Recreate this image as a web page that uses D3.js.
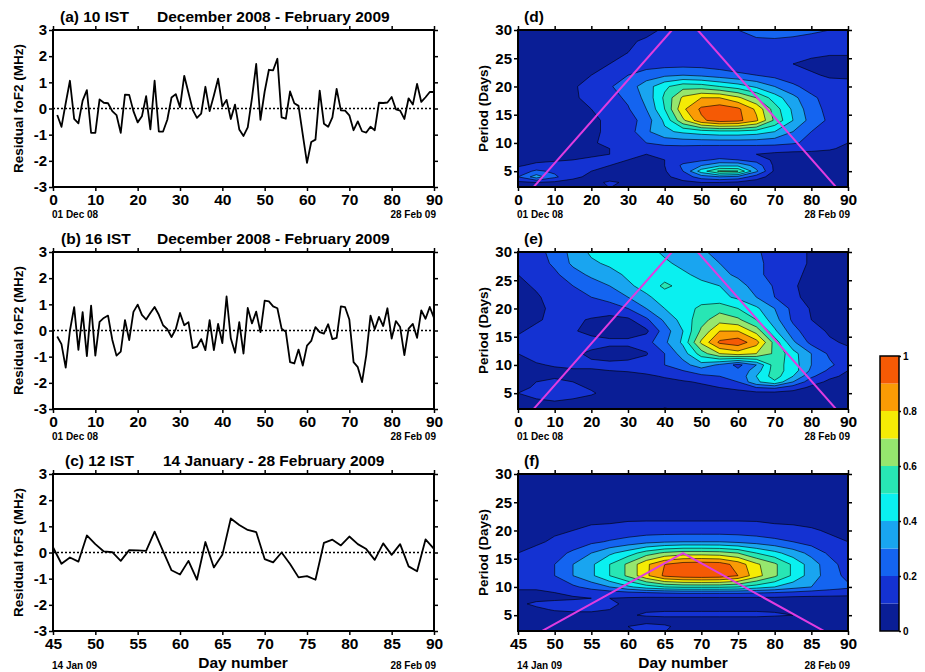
<!DOCTYPE html>
<html>
<head>
<meta charset="utf-8">
<script src="https://cdn.jsdelivr.net/npm/d3@7"></script>
<style>
  body { margin: 0; background: #fff; }
  svg text { font-family: "Liberation Sans", Arial, sans-serif; font-weight: bold; fill: #000; }
</style>
</head>
<body>
<div id="chart"></div>
<script>
// ---- residual series ----
const residual10IST = [
  -0.25, -0.70, 0.20, 1.06, -0.40, -0.57, 0.30, 0.70, -0.93, -0.93,
  0.35, 0.22, 0.20, -0.10, -0.25, -0.93, 0.53, 0.52, -0.10, -0.53,
  -0.30, 0.47, -0.80, 1.06, -0.88, -0.88, -0.43, 0.42, 0.55, 0.05,
  1.25, 0.60, -0.05, -0.36, -0.20, 0.83, -0.10, 0.50, 1.14, 0.08,
  0.33, -0.40, 0.15, -0.80, -1.05, -0.72, 0.40, 1.70, -0.43, 0.65,
  1.48, 1.46, 1.90, -0.34, -0.39, 0.65, 0.20, 0.10, -1.00, -2.08,
  -1.28, -1.19, 0.68, -0.58, -0.70, -0.34, 0.75, -0.07, -0.08, -0.26,
  -0.83, -0.49, -0.87, -0.92, -0.70, -0.83, 0.22, 0.21, 0.23, 0.44,
  -0.03, -0.08, -0.40, 0.39, 0.15, 0.94, 0.25, 0.43, 0.63, 0.63
];
const residual16IST = [
  -0.23, -0.52, -1.42, 0.00, 0.89, -0.74, 0.70, -0.98, 0.95, -0.96,
  0.33, 0.48, 0.57, -0.35, -0.96, -0.81, 0.40, -0.37, 0.71, 0.99,
  0.60, 0.42, 0.67, 0.90, 0.60, 0.20, 0.05, -0.25, 0.05, 0.67,
  0.20, 0.32, -0.67, -0.62, -0.33, -0.75, 0.40, -0.75, 0.25, -0.48,
  1.30, -0.30, -0.85, 0.32, -0.88, 0.86, 0.27, 0.72, -0.06, 1.14,
  1.11, 0.92, 0.85, 0.07, -0.05, -1.21, -1.26, -0.73, -1.34, -0.58,
  -0.40, 0.13, -0.06, -0.12, 0.24, -0.33, -0.28, 0.92, 0.89, 0.42,
  -1.21, -1.40, -1.97, -0.94, 0.57, 0.05, 0.52, 0.17, 0.85, -0.31,
  0.36, 0.13, -0.94, 0.07, 0.25, -0.28, 0.77, 0.45, 0.90, 0.48
];
const residual12IST = [
  0.20, -0.43, -0.19, -0.35, 0.65, 0.32, 0.04, 0.01, -0.32, 0.09,
  0.08, 0.06, 0.80, 0.05, -0.68, -0.84, -0.32, -1.04, 0.40, -0.57,
  -0.09, 1.30, 1.05, 0.86, 0.78, -0.25, -0.38, 0.00, -0.44, -0.95,
  -0.90, -1.04, 0.37, 0.49, 0.27, 0.61, 0.32, 0.13, -0.28, 0.35,
  -0.09, 0.32, -0.53, -0.72, 0.50, 0.14
];
const daysDec = d3.range(1, 91);   // day 1 .. 90
const daysJan = d3.range(45, 91);  // day 45 .. 90

const ticksDec = [0, 10, 20, 30, 40, 50, 60, 70, 80, 90];
const ticksJan = [45, 50, 55, 60, 65, 70, 75, 80, 85, 90];
const residualTicks = [-3, -2, -1, 0, 1, 2, 3];
const periodTicks = [5, 10, 15, 20, 25, 30];

// ---- wavelet power grids (normalised) ----
// rows follow periodRows (top to bottom), columns follow the day columns
const periodRows = [30, 28, 26, 24, 22, 20, 18, 16, 14, 12, 10, 9, 8, 7, 6, 5, 4, 3, 2];
const dayColsDec = [0, 5, 10, 15, 20, 25, 30, 35, 40, 45, 50, 55, 60, 65, 70, 75, 80, 85, 90];
const dayColsJan = [45, 47.5, 50, 52.5, 55, 57.5, 60, 62.5, 65, 67.5, 70, 72.5, 75, 77.5, 80, 82.5, 85, 87.5, 90];

const power10IST = [
  [.04,.04,.04,.04,.05,.06,.07,.08,.11,.14,.16,.18,.20,.22,.23,.23,.22,.20,.17],
  [.04,.04,.04,.05,.06,.07,.09,.11,.13,.14,.15,.16,.18,.19,.19,.18,.16,.15,.14],
  [.04,.04,.05,.05,.06,.08,.10,.13,.14,.14,.14,.15,.15,.16,.15,.13,.12,.11,.11],
  [.04,.04,.05,.06,.08,.10,.12,.15,.16,.16,.16,.15,.14,.13,.12,.10,.08,.07,.07],
  [.04,.05,.06,.07,.10,.14,.20,.25,.28,.30,.28,.25,.22,.20,.17,.14,.11,.09,.09],
  [.04,.05,.07,.09,.13,.19,.25,.35,.48,.56,.55,.50,.45,.38,.30,.22,.16,.13,.12],
  [.04,.05,.07,.09,.12,.16,.22,.33,.52,.72,.80,.80,.72,.60,.45,.33,.22,.16,.13],
  [.04,.05,.06,.08,.10,.13,.19,.30,.50,.78,.92,.96,.92,.78,.55,.38,.24,.17,.13],
  [.04,.05,.06,.07,.09,.11,.15,.25,.42,.68,.88,.95,.93,.82,.58,.40,.26,.18,.13],
  [.04,.05,.06,.07,.09,.11,.15,.28,.38,.42,.45,.47,.47,.45,.40,.30,.20,.15,.12],
  [.04,.05,.06,.07,.09,.12,.16,.20,.23,.24,.24,.24,.24,.24,.23,.21,.18,.14,.10],
  [.04,.05,.06,.07,.08,.10,.12,.15,.16,.16,.15,.15,.15,.15,.15,.14,.13,.11,.08],
  [.05,.06,.07,.08,.09,.10,.10,.10,.10,.11,.12,.13,.12,.10,.08,.07,.07,.07,.06],
  [.06,.08,.09,.10,.11,.11,.10,.08,.10,.16,.18,.22,.20,.16,.08,.05,.05,.05,.05],
  [.09,.12,.13,.12,.11,.10,.08,.07,.10,.22,.30,.38,.38,.26,.08,.05,.05,.04,.04],
  [.14,.22,.18,.13,.10,.08,.07,.06,.09,.20,.45,.62,.60,.32,.08,.05,.04,.04,.04],
  [.20,.35,.22,.12,.08,.07,.06,.05,.08,.14,.25,.30,.27,.15,.05,.04,.04,.04,.04],
  [.08,.10,.08,.07,.08,.11,.09,.08,.07,.08,.10,.10,.08,.05,.04,.04,.04,.04,.04],
  [.05,.05,.05,.05,.06,.10,.08,.06,.05,.05,.05,.05,.04,.04,.04,.04,.04,.04,.04]
];
const power16IST = [
  [.12,.16,.24,.33,.42,.45,.46,.44,.38,.33,.31,.28,.25,.21,.17,.13,.09,.08,.08],
  [.12,.15,.22,.32,.38,.42,.45,.45,.42,.37,.33,.30,.26,.22,.17,.13,.09,.08,.08],
  [.10,.13,.18,.26,.32,.36,.42,.46,.46,.42,.37,.33,.28,.22,.17,.12,.08,.07,.07],
  [.08,.11,.15,.20,.25,.30,.38,.44,.52,.47,.43,.40,.34,.26,.19,.11,.07,.07,.07],
  [.06,.09,.13,.17,.20,.24,.30,.38,.45,.47,.46,.43,.38,.30,.20,.12,.07,.07,.07],
  [.06,.08,.12,.15,.16,.15,.20,.30,.40,.46,.52,.56,.50,.42,.30,.17,.09,.07,.07],
  [.07,.09,.12,.12,.09,.07,.08,.18,.32,.44,.56,.66,.62,.50,.34,.18,.10,.08,.07],
  [.09,.12,.14,.11,.07,.06,.06,.08,.25,.40,.62,.80,.80,.66,.42,.24,.13,.09,.08],
  [.12,.15,.18,.17,.14,.12,.12,.16,.28,.42,.72,.92,.96,.84,.56,.32,.17,.11,.09],
  [.10,.14,.15,.12,.08,.06,.06,.09,.20,.35,.55,.70,.75,.70,.58,.44,.30,.18,.12],
  [.06,.09,.11,.12,.12,.12,.13,.16,.20,.26,.36,.28,.17,.30,.55,.45,.30,.22,.14],
  [.05,.07,.08,.09,.09,.10,.11,.13,.16,.20,.25,.25,.22,.35,.55,.45,.28,.18,.10],
  [.05,.07,.08,.08,.07,.06,.06,.08,.11,.14,.18,.20,.22,.40,.55,.40,.22,.12,.08],
  [.06,.10,.13,.10,.07,.05,.05,.05,.07,.09,.11,.14,.20,.38,.48,.30,.14,.08,.06],
  [.08,.11,.14,.12,.09,.06,.05,.05,.06,.07,.08,.10,.13,.20,.22,.15,.08,.06,.05],
  [.10,.14,.16,.14,.11,.07,.05,.05,.10,.08,.06,.06,.06,.07,.07,.06,.05,.05,.05],
  [.08,.10,.12,.10,.08,.06,.05,.05,.06,.05,.05,.05,.05,.05,.05,.05,.05,.05,.05],
  [.06,.06,.07,.06,.05,.05,.05,.05,.07,.06,.05,.05,.05,.05,.05,.05,.08,.10,.06],
  [.06,.12,.08,.05,.05,.05,.05,.05,.12,.08,.05,.05,.05,.05,.05,.05,.05,.07,.05]
];
const power12IST = [
  [.05,.05,.05,.05,.05,.05,.05,.05,.05,.05,.05,.05,.05,.05,.05,.05,.05,.05,.05],
  [.05,.05,.05,.05,.05,.05,.05,.05,.05,.05,.05,.05,.05,.05,.05,.05,.05,.05,.05],
  [.05,.05,.05,.05,.05,.05,.05,.06,.06,.06,.06,.06,.06,.05,.05,.05,.05,.05,.05],
  [.05,.05,.05,.06,.06,.06,.07,.07,.07,.07,.07,.07,.07,.07,.06,.06,.06,.05,.05],
  [.06,.06,.07,.07,.08,.08,.09,.09,.09,.09,.09,.09,.09,.09,.08,.08,.07,.07,.06],
  [.07,.08,.09,.10,.12,.13,.14,.15,.15,.15,.15,.15,.15,.14,.13,.12,.11,.09,.08],
  [.08,.09,.11,.14,.18,.21,.24,.27,.29,.30,.30,.30,.28,.26,.23,.20,.16,.12,.10],
  [.10,.12,.16,.22,.30,.38,.45,.55,.62,.65,.65,.64,.60,.50,.43,.35,.27,.18,.13],
  [.12,.14,.20,.30,.38,.50,.62,.78,.90,.95,.96,.95,.86,.72,.62,.48,.35,.24,.15],
  [.15,.16,.20,.30,.38,.50,.62,.78,.92,.96,.97,.96,.90,.74,.62,.48,.35,.25,.17],
  [.12,.12,.14,.18,.24,.30,.38,.45,.50,.52,.52,.52,.50,.45,.40,.34,.30,.25,.22],
  [.08,.08,.10,.12,.14,.16,.18,.20,.21,.22,.22,.22,.22,.21,.20,.18,.16,.15,.14],
  [.06,.07,.08,.09,.10,.10,.09,.08,.08,.08,.08,.08,.08,.08,.08,.07,.07,.07,.07],
  [.08,.12,.13,.13,.12,.11,.09,.07,.06,.06,.06,.06,.06,.06,.05,.05,.05,.05,.05],
  [.06,.08,.11,.12,.12,.10,.09,.09,.09,.09,.09,.09,.09,.09,.09,.08,.06,.05,.05],
  [.05,.05,.06,.07,.07,.07,.09,.11,.12,.12,.12,.12,.12,.12,.11,.10,.07,.05,.05],
  [.05,.05,.05,.05,.05,.05,.05,.05,.05,.05,.05,.05,.05,.05,.05,.05,.05,.05,.05],
  [.05,.05,.05,.05,.05,.05,.10,.15,.12,.06,.05,.05,.05,.05,.05,.05,.05,.08,.05],
  [.05,.05,.05,.05,.05,.05,.08,.12,.10,.05,.05,.05,.05,.05,.05,.05,.05,.05,.05]
];

// cone of influence lines
const coiDecDays = [[4, 42], [49, 87]];
const coiDecPeriods = [[2, 30], [30, 2]];
const coiJanDays = [[48, 67.5, 87]];
const coiJanPeriods = [[2, 16, 2]];

const levels = [0, .1, .2, .3, .4, .5, .6, .7, .8, .9, 1];
const levelTicks = [0, .2, .4, .6, .8, 1];
const bandColors = ["#0a1e96", "#1432d2", "#1464f0", "#19a5f0", "#0af0f0",
                    "#28e6b4", "#96e66e", "#f5eb05", "#fa9b05", "#f55a05"];

// ---- layout ----
const svg = d3.select("#chart").append("svg")
  .attr("width", 925).attr("height", 672)
  .style("background", "#fff");

const leftRange = [53, 434];
const rightRange = [518, 848];
const rowTops = [30, 252, 474];
const plotH = 157;

function styleAxis(g, fontSize) {
  g.select(".domain").remove();
  g.selectAll(".tick line").attr("stroke", "#000").attr("stroke-width", 1.5);
  g.selectAll(".tick text").attr("font-size", fontSize).attr("fill", "#000");
}

function addAxes(x, y, xTicks, yTicks, top, xr) {
  const bottom = top + plotH;
  svg.append("g").attr("transform", `translate(0,${bottom})`)
    .call(d3.axisBottom(x).tickValues(xTicks).tickSize(4).tickPadding(2.5).tickFormat(d => d))
    .call(g => styleAxis(g, 15.5));
  svg.append("g").attr("transform", `translate(0,${top})`)
    .call(d3.axisTop(x).tickValues(xTicks).tickSize(4).tickFormat(""))
    .call(g => styleAxis(g, 0));
  svg.append("g").attr("transform", `translate(${xr[0]},0)`)
    .call(d3.axisLeft(y).tickValues(yTicks).tickSize(4).tickPadding(2).tickFormat(d => String(d)))
    .call(g => styleAxis(g, 15));
  svg.append("g").attr("transform", `translate(${xr[1]},0)`)
    .call(d3.axisRight(y).tickValues(yTicks).tickSize(4).tickFormat(""))
    .call(g => styleAxis(g, 0));
  svg.append("rect")
    .attr("x", xr[0]).attr("y", top)
    .attr("width", xr[1] - xr[0]).attr("height", plotH)
    .attr("fill", "none").attr("stroke", "#000").attr("stroke-width", 2);
}

function addDateLabels(xr, top, startText, endText, dy) {
  const yb = top + plotH + dy;
  svg.append("text").attr("x", xr[0] - 1).attr("y", yb).attr("font-size", 10).text(startText);
  svg.append("text").attr("x", xr[1] + 2).attr("y", yb).attr("font-size", 10)
    .attr("text-anchor", "end").text(endText);
}

function addYLabel(xr, top, text) {
  svg.append("text")
    .attr("transform", `translate(${xr[0] - 30},${top + plotH / 2}) rotate(-90)`)
    .attr("text-anchor", "middle").attr("font-size", 13.5).text(text);
}

// Residual time series panel
function createSeriesPanel(p) {
  const top = rowTops[p.row];
  const x = d3.scaleLinear().domain(p.xDomain).range(leftRange);
  const y = d3.scaleLinear().domain([-3, 3]).range([top + plotH, top]);

  svg.append("line")
    .attr("x1", leftRange[0]).attr("x2", leftRange[1])
    .attr("y1", y(0)).attr("y2", y(0))
    .attr("stroke", "#000").attr("stroke-width", 1.6).attr("stroke-dasharray", "2,2");

  const line = d3.line().x((d, i) => x(p.days[i])).y(d => y(d));
  svg.append("path").datum(p.values)
    .attr("d", line).attr("fill", "none")
    .attr("stroke", "#000").attr("stroke-width", 1.8).attr("stroke-linejoin", "round");

  addAxes(x, y, p.xTicks, residualTicks, top, leftRange);
  addYLabel(leftRange, top, p.ylabel);

  svg.append("text").attr("x", p.titleX[0]).attr("y", top - 8.5).attr("font-size", 15.5).text(p.title1);
  svg.append("text").attr("x", p.titleX[1]).attr("y", top - 8.5).attr("font-size", 15.5).text(p.title2);
  addDateLabels(leftRange, top, p.start, p.end, p.dateDy);
}

// Wavelet spectrum contour panel
function createSpectrumPanel(p) {
  const top = rowTops[p.row];
  const x = d3.scaleLinear().domain(p.xDomain).range(rightRange);
  const y = d3.scaleLinear().domain([2.2, 30]).range([top + plotH, top]);

  const clipId = "clip" + p.row;
  svg.append("clipPath").attr("id", clipId).append("rect")
    .attr("x", rightRange[0]).attr("y", top)
    .attr("width", rightRange[1] - rightRange[0]).attr("height", plotH);

  const g = svg.append("g").attr("clip-path", `url(#${clipId})`);
  g.append("rect")
    .attr("x", rightRange[0]).attr("y", top)
    .attr("width", rightRange[1] - rightRange[0]).attr("height", plotH)
    .attr("fill", bandColors[0]);

  // grid index -> (day, period) through piecewise scales
  const nx = p.cols.length, ny = periodRows.length;
  const colIndex = d3.scaleLinear().domain(d3.range(nx)).range(p.cols);
  const rowIndex = d3.scaleLinear().domain(d3.range(ny)).range(periodRows);
  const proj = d3.geoTransform({
    point(px, py) { this.stream.point(x(colIndex(px - 0.5)), y(rowIndex(py - 0.5))); }
  });
  const path = d3.geoPath(proj);
  const bands = d3.contours().size([nx, ny]).thresholds(levels.slice(1, -1))(p.grid.flat());

  g.selectAll("path.band").data(bands).join("path")
    .attr("class", "band")
    .attr("d", path)
    .attr("fill", (d, i) => bandColors[i + 1])
    .attr("fill-rule", "evenodd")
    .attr("stroke", "#000").attr("stroke-width", 0.6);

  const coi = d3.line().x(d => x(d[0])).y(d => y(d[1]));
  p.coiDays.forEach((days, k) => {
    g.append("path").datum(days.map((d, i) => [d, p.coiPeriods[k][i]]))
      .attr("d", coi).attr("fill", "none")
      .attr("stroke", "#e03ce0").attr("stroke-width", 2);
  });

  addAxes(x, y, p.xTicks, periodTicks, top, rightRange);
  addYLabel(rightRange, top, "Period (Days)");
  svg.append("text").attr("x", 524).attr("y", top - 8.5).attr("font-size", 15.5).text(p.label);
  addDateLabels(rightRange, top, p.start, p.end, p.dateDy);
}

function createColorbar() {
  const x0 = 880, w = 19;
  const cy = d3.scaleLinear().domain([0, 1]).range([631, 356]);
  svg.selectAll("rect.cb").data(bandColors).join("rect")
    .attr("class", "cb")
    .attr("x", x0).attr("y", (d, i) => cy(levels[i + 1]))
    .attr("width", w).attr("height", (d, i) => cy(levels[i]) - cy(levels[i + 1]))
    .attr("fill", d => d);
  svg.append("rect").attr("x", x0).attr("y", cy(1)).attr("width", w).attr("height", cy(0) - cy(1))
    .attr("fill", "none").attr("stroke", "#000").attr("stroke-width", 1.5);
  svg.append("g").attr("transform", `translate(${x0 + w},0)`)
    .call(d3.axisRight(cy).tickValues(levelTicks).tickSize(2).tickPadding(2)
      .tickFormat(d => (d === 0 || d === 1) ? String(d) : d.toFixed(1)))
    .call(g => styleAxis(g, 10));
}

createSeriesPanel({
  row: 0, xDomain: [0, 90], xTicks: ticksDec, days: daysDec, values: residual10IST,
  ylabel: "Residual foF2 (MHz)", title1: "(a) 10 IST", title2: "December 2008 - February 2009",
  titleX: [60, 157], start: "01 Dec 08", end: "28 Feb 09", dateDy: 31
});
createSeriesPanel({
  row: 1, xDomain: [0, 90], xTicks: ticksDec, days: daysDec, values: residual16IST,
  ylabel: "Residual foF2 (MHz)", title1: "(b) 16 IST", title2: "December 2008 - February 2009",
  titleX: [61, 157], start: "01 Dec 08", end: "28 Feb 09", dateDy: 31
});
createSeriesPanel({
  row: 2, xDomain: [45, 90], xTicks: ticksJan, days: daysJan, values: residual12IST,
  ylabel: "Residual foF3 (MHz)", title1: "(c) 12 IST", title2: "14 January - 28 February 2009",
  titleX: [65, 163], start: "14 Jan 09", end: "28 Feb 09", dateDy: 38
});

createSpectrumPanel({
  row: 0, xDomain: [0, 90], xTicks: ticksDec, cols: dayColsDec, grid: power10IST,
  coiDays: coiDecDays, coiPeriods: coiDecPeriods, label: "(d)",
  start: "01 Dec 08", end: "28 Feb 09", dateDy: 31
});
createSpectrumPanel({
  row: 1, xDomain: [0, 90], xTicks: ticksDec, cols: dayColsDec, grid: power16IST,
  coiDays: coiDecDays, coiPeriods: coiDecPeriods, label: "(e)",
  start: "01 Dec 08", end: "28 Feb 09", dateDy: 31
});
createSpectrumPanel({
  row: 2, xDomain: [45, 90], xTicks: ticksJan, cols: dayColsJan, grid: power12IST,
  coiDays: coiJanDays, coiPeriods: coiJanPeriods, label: "(f)",
  start: "14 Jan 09", end: "28 Feb 09", dateDy: 38
});

createColorbar();

svg.append("text").attr("x", 243).attr("y", 668).attr("text-anchor", "middle")
  .attr("font-size", 15.5).text("Day number");
svg.append("text").attr("x", 683).attr("y", 668).attr("text-anchor", "middle")
  .attr("font-size", 15.5).text("Day number");
</script>
</body>
</html>
